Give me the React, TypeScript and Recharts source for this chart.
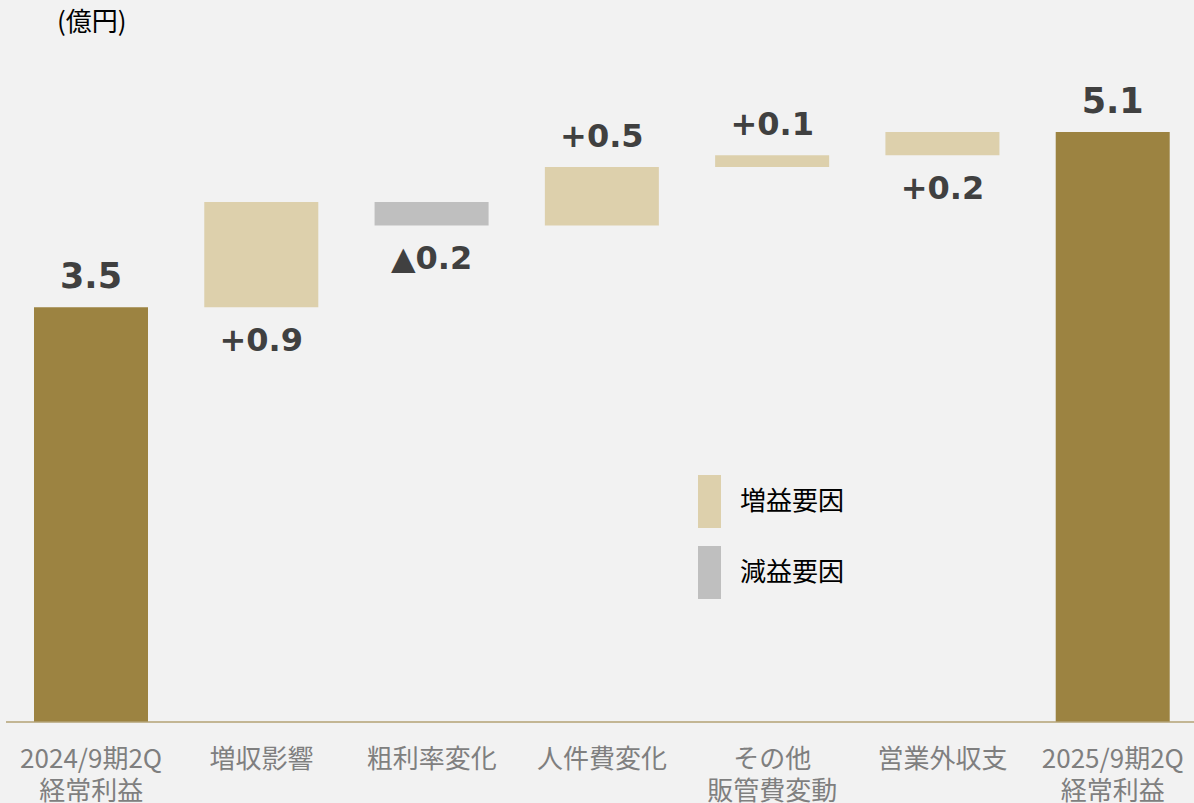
import { BarChart, Bar, XAxis, YAxis, Cell, LabelList } from "recharts";

const categories = [
  "2024/9期2Q\n経常利益",
  "増収影響",
  "粗利率変化",
  "人件費変化",
  "その他\n販管費変動",
  "営業外収支",
  "2025/9期2Q\n経常利益",
];
// first and last are totals, the rest are changes
const values = [3.55, 0.9, -0.2, 0.5, 0.1, 0.2, 5.05];
const kinds = ["total", "delta", "delta", "delta", "delta", "delta", "total"];
const valueLabels = ["3.5", "+0.9", "▲0.2", "+0.5", "+0.1", "+0.2", "5.1"];
const labelSides = ["top", "bottom", "bottom", "top", "top", "bottom", "top"];
const legendItems = ["増益要因", "減益要因"];

const COLORS = {
  total: "#9c8341",
  up: "#ddd0ac",
  down: "#bfbfbf",
  text: "#404040",
  axis: "#7f7f7f",
  bg: "#f2f2f2",
};

let running = 0;
const data = categories.map((name, i) => {
  const v = values[i];
  if (kinds[i] === "total") {
    running = v;
    return { name, base: 0, size: v, i };
  }
  const low = v >= 0 ? running : running + v;
  running += v;
  return { name, base: low, size: Math.abs(v), i };
});

const barColor = (i: number) =>
  kinds[i] === "total" ? COLORS.total : values[i] >= 0 ? COLORS.up : COLORS.down;

function ValueLabel(props: any) {
  const { x, y, width, height, index } = props;
  const fs = kinds[index] === "total" ? 35 : 32;
  const cx = x + width / 2;
  const cy = labelSides[index] === "top" ? y - 32 : y + height + 32;
  return (
    <text
      x={cx}
      y={cy}
      dy={fs * 0.365}
      textAnchor="middle"
      fontFamily="'DejaVu Sans', Verdana, sans-serif"
      fontWeight="bold"
      fontSize={fs}
      fill={COLORS.text}
    >
      {valueLabels[index]}
    </text>
  );
}

function CategoryTick(props: any) {
  const { x, y, payload } = props;
  const lines = String(payload.value).split("\n");
  return (
    <g>
      {lines.map((line, k) => (
        <text
          key={k}
          x={x}
          y={y + 38 + k * 32}
          textAnchor="middle"
          fontFamily="'Noto Sans CJK JP', 'Noto Sans', sans-serif"
          fontSize={26}
          fill={COLORS.axis}
        >
          {line}
        </text>
      ))}
    </g>
  );
}

export default function App() {
  return (
    <div
      style={{
        position: "fixed",
        left: 0,
        top: 0,
        width: 1194,
        height: 803,
        overflow: "hidden",
        background: COLORS.bg,
        fontFamily: "'Noto Sans CJK JP', sans-serif",
      }}
    >
      <div
        style={{
          position: "absolute",
          left: 57,
          top: 5,
          fontSize: 26,
          lineHeight: "30px",
          color: "#000",
        }}
      >
        (億円)
      </div>
      <BarChart
        width={1198}
        height={803}
        data={data}
        margin={{ top: 21, right: 0, bottom: 0, left: 6 }}
        barSize={114}
      >
        <XAxis
          dataKey="name"
          height={81}
          interval={0}
          tickLine={false}
          axisLine={{ stroke: "#b3a274", strokeWidth: 1.5 }}
          tick={<CategoryTick />}
        />
        <YAxis hide domain={[0, 6]} />
        <Bar dataKey="base" stackId="w" fill="transparent" isAnimationActive={false} />
        <Bar dataKey="size" stackId="w" isAnimationActive={false}>
          {data.map((d) => (
            <Cell key={d.i} fill={barColor(d.i)} />
          ))}
          <LabelList dataKey="size" content={<ValueLabel />} />
        </Bar>
      </BarChart>
      {legendItems.map((t, k) => (
        <div key={t} style={{ position: "absolute", left: 698, top: 475 + k * 71 }}>
          <div
            style={{
              position: "absolute",
              left: 0,
              top: 0,
              width: 23,
              height: 53,
              background: k === 0 ? COLORS.up : COLORS.down,
            }}
          />
          <div
            style={{
              position: "absolute",
              left: 42,
              top: 9,
              fontSize: 26,
              lineHeight: "30px",
              whiteSpace: "nowrap",
              color: "#000",
            }}
          >
            {t}
          </div>
        </div>
      ))}
    </div>
  );
}
